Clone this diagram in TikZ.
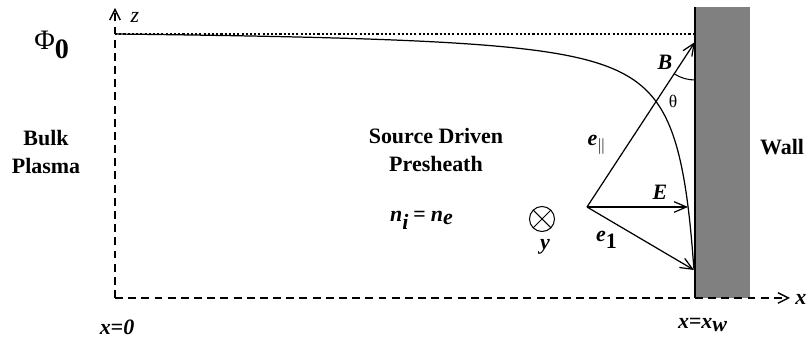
\documentclass[tikz,border=0pt]{standalone}
\usepackage{fontspec}
\setmainfont{Liberation Serif}
\usepackage{tikz}
\usetikzlibrary{arrows.meta}
\definecolor{wallgray}{RGB}{128,128,128}
\definecolor{mydark}{RGB}{0,0,0}
\newcommand{\bi}[1]{\textbf{\textit{#1}}}
\tikzset{
  axis/.style={line width=0.8pt,color=mydark,dash pattern=on 4.5pt off 3pt,
    -{Straight Barb[length=6pt,width=6pt]}},
  vec/.style={line width=0.7pt,color=mydark,-{Straight Barb[length=7pt,width=6pt]}},
  lbl/.style={font=\fontsize{12.5}{15}\selectfont\bfseries\itshape,inner sep=0pt},
  txt/.style={font=\fontsize{12.5}{15.5}\selectfont\bfseries,align=center,inner sep=0pt}
}
\begin{document}
\begin{tikzpicture}[x=0.02cm,y=-0.02cm]
  \useasboundingbox (0,0) rectangle (806,347);

  % Wall
  \fill[wallgray] (695,7) rectangle (750,298);
  \draw[line width=0.7pt] (695,7) -- (695,298);
  \node[txt] (wall) at (782,147) {Wall};

  % Axes
  \coordinate (O) at (115,298);
  \coordinate (zend) at (115,8);
  \coordinate (xend) at (790,298);
  \draw[axis] (O) -- (zend);
  \draw[axis] (O) -- (xend);
  \node[lbl,anchor=west] (xlab) at (795,299) {x};
  \node[font=\fontsize{12.5}{15}\selectfont\itshape,inner sep=0pt] (zlab) at (135,17) {z};
  \node[lbl] (x0) at (117,327) {x=0};
  \node[lbl] (xw) at (703,325) {x=x$_{\textbf{\textit{w}}}$};

  % Potential, Phi_0 level
  \draw[line width=0.6pt,dash pattern=on 1.2pt off 1.2pt] (115,34) -- (695,34);
  \node[font=\fontsize{16}{18}\selectfont,inner sep=0pt] (phi) at (52,45) {Φ$_{\textbf{0}}$};
  \draw[line width=0.7pt,domain=-3.540:0.02664,samples=150,variable=\t]
    plot ({115+580*(1.027-exp(\t))},{27.184+7/exp(\t)});

  % Regions
  \node[txt] (bulk) at (46,152) {Bulk\\Plasma};
  \node[txt] (presheath) at (436,150) {Source Driven\\Presheath};
  \node[lbl] (dens) at (422,220) {n$_{\textbf{\textit{i}}}$\,= n$_{\textbf{\textit{e}}}$};

  % Field vectors
  \coordinate (src) at (587,207);
  \coordinate (Btip) at (695,42);
  \coordinate (Etip) at (688,207);
  \coordinate (e1tip) at (694,270);
  \draw[vec] (src) -- (Btip);
  \draw[vec] (src) -- (Etip);
  \draw[vec] (src) -- (e1tip);
  \draw[line width=0.6pt] (Btip) ++(90:38) arc[start angle=90,end angle=123,radius=38];
  \node[lbl] (Blab) at (665,62) {B};
  \node[font=\fontsize{10}{12}\selectfont,inner sep=0pt] (theta) at (673,101) {θ};
  \node[lbl] (epar) at (597,145) {e$_{\|}$};
  \node[lbl] (Elab) at (660,192) {E};
  \node[lbl] (e1lab) at (607,240) {e$_{\textup{\textbf{1}}}$};

  % y direction into the page
  \node[circle,draw,line width=0.6pt,minimum size=0.5cm,inner sep=0pt,
    path picture={\draw[line width=0.6pt] (path picture bounding box.north west) -- (path picture bounding box.south east)
      (path picture bounding box.north east) -- (path picture bounding box.south west);}] (ydir) at (542,219) {};
  \node[lbl] (ylab) at (545,247) {y};
\end{tikzpicture}
\end{document}
